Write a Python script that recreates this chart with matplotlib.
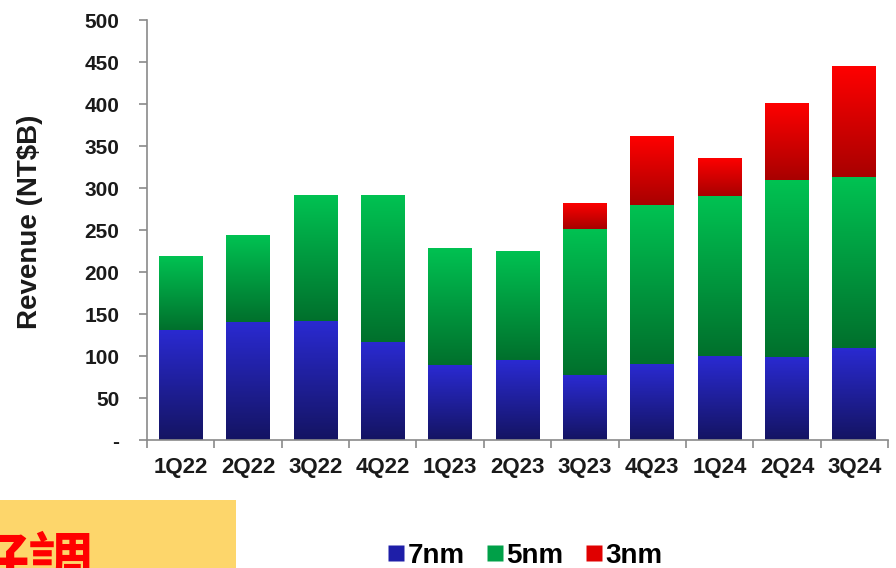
import numpy as np
import matplotlib
matplotlib.use('Agg')
import matplotlib.pyplot as plt
from matplotlib.colors import LinearSegmentedColormap
from matplotlib.patches import Rectangle
from matplotlib.lines import Line2D

plt.rcParams['font.family'] = ['Liberation Sans', 'DejaVu Sans']

# 季度
quarters = ['1Q22', '2Q22', '3Q22', '4Q22', '1Q23', '2Q23', '3Q23', '4Q23', '1Q24', '2Q24', '3Q24']
# 各制程营收 (NT$B)
rev_7nm = [131, 141, 142, 117, 89, 95, 77, 91, 100, 99, 110]
rev_5nm = [88, 103, 150, 175, 140, 130, 174, 189, 190, 210, 203]
rev_3nm = [0, 0, 0, 0, 0, 0, 31, 82, 46, 92, 132]
y_ticks = [0, 50, 100, 150, 200, 250, 300, 350, 400, 450, 500]
y_ticklabels = ['-', '50', '100', '150', '200', '250', '300', '350', '400', '450', '500']
series_names = ['7nm', '5nm', '3nm']

# 渐变色 (顶部, 底部)
grad_colors = {
    '7nm': ('#2a2ad2', '#141462'),
    '5nm': ('#00c252', '#00702c'),
    '3nm': ('#ff0000', '#a80000'),
}
legend_colors = {'7nm': '#1e1ea8', '5nm': '#00a048', '3nm': '#e00000'}


def grad_fill(ax, patch, top, bottom):
    """用imshow给柱子填渐变色"""
    x0, y0 = patch.get_x(), patch.get_y()
    w, h = patch.get_width(), patch.get_height()
    if h <= 0:
        return
    cmap = LinearSegmentedColormap.from_list('g', [bottom, top])
    g = np.linspace(0, 1, 256).reshape(-1, 1)
    im = ax.imshow(g, cmap=cmap, origin='lower', extent=(x0, x0 + w, y0, y0 + h),
                   aspect='auto', zorder=patch.get_zorder() + 0.1, interpolation='bilinear')
    im.set_clip_path(patch)


fig = plt.figure(figsize=(8.96, 5.68), dpi=100)
ax = fig.add_axes([147 / 896, 1 - 440 / 568, (888 - 147) / 896, 420 / 568])

x = np.arange(len(quarters))
bottom = np.zeros(len(quarters))
for name, vals in zip(series_names, [rev_7nm, rev_5nm, rev_3nm]):
    vals = np.array(vals, dtype=float)
    bars = ax.bar(x, vals, bottom=bottom, width=0.65, color=grad_colors[name][0],
                  linewidth=0, zorder=2)
    for p in bars.patches:
        grad_fill(ax, p, *grad_colors[name])
    bottom += vals

ax.set_xlim(-0.5, len(quarters) - 0.5)
ax.set_ylim(0, 500)

# 坐标轴样式
for s in ['top', 'right']:
    ax.spines[s].set_visible(False)
for s in ['left', 'bottom']:
    ax.spines[s].set_color('#8a8a8a')
    ax.spines[s].set_linewidth(1.2)

ax.set_yticks(y_ticks)
ax.set_yticklabels(y_ticklabels, fontsize=15, fontweight='bold', color='#1a1a1a')
ax.tick_params(axis='y', direction='out', length=6, width=1.2, color='#8a8a8a', pad=14)

ax.set_xticks(x)
ax.set_xticklabels(quarters, fontsize=16, fontweight='bold', color='#1a1a1a')
ax.set_xticks(np.arange(-0.5, len(quarters), 1), minor=True)
ax.tick_params(axis='x', which='major', length=0, pad=12)
ax.tick_params(axis='x', which='minor', direction='out', length=6, width=1.2, color='#8a8a8a')

ax.set_ylabel('Revenue (NT$B)', fontsize=20, fontweight='bold', color='#1a1a1a')
ax.yaxis.set_label_coords(-0.141, 0.52)

# 图例
handles = [Line2D([], [], marker='s', linestyle='none', markersize=11,
                  markerfacecolor=legend_colors[n], markeredgecolor='none') for n in series_names]
fig.legend(handles, series_names, loc='center', bbox_to_anchor=(525 / 896, 1 - 556 / 568),
           ncol=3, frameon=False, handletextpad=0.1, columnspacing=0.8, handlelength=0.6,
           borderpad=0, prop={'size': 20, 'weight': 'bold'})

# 左下角的黄色标签
fig.patches.append(Rectangle((0, 0), 236 / 896, 68 / 568, transform=fig.transFigure,
                             facecolor='#fdd66b', edgecolor='none', zorder=0))
fig.text(94 / 896, 1 - 533 / 568, '好調', fontsize=47, color='#ff0000', fontweight='bold',
         family=['Noto Sans CJK TC', 'DejaVu Sans'], ha='right', va='top')

fig.savefig('out.png', dpi=100)
